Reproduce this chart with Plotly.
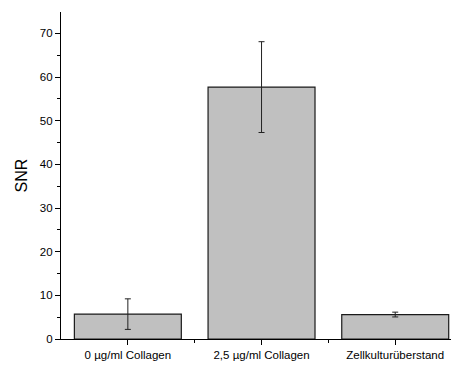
import plotly.graph_objects as go

categories = ["0 µg/ml Collagen", "2,5 µg/ml Collagen", "Zellkulturüberstand"]
snr_values = [5.7, 57.7, 5.6]
snr_errors = [3.5, 10.4, 0.55]
y_ticks = [0, 10, 20, 30, 40, 50, 60, 70]

x_pos = list(range(len(categories)))

fig = go.Figure()
fig.add_trace(go.Bar(
    x=x_pos, y=snr_values, width=0.8,
    marker=dict(color="#C0C0C0", line=dict(color="#1a1a1a", width=1.2)),
    error_y=dict(type="data", array=snr_errors, visible=True,
                 color="#222222", thickness=1, width=3),
))

# page body has an 8px margin; compensate so the plot sits where the reference does
fig.update_layout(
    width=451, height=357,
    margin=dict(l=53, r=0, t=4, b=26, autoexpand=False),
    plot_bgcolor="white", paper_bgcolor="white",
    font=dict(family="Liberation Sans, Arial, sans-serif", size=11.5, color="#000000"),
    showlegend=False,
    bargap=0.2,
)
fig.update_xaxes(
    range=[-0.5, 2.477], tickmode="array", tickvals=x_pos, ticktext=categories,
    showline=True, linecolor="black", linewidth=1.2, ticks="outside",
    ticklen=5, tickcolor="black", showgrid=False, zeroline=False,
    tickfont=dict(size=11.5), automargin=False,
    minor=dict(tickmode="array", tickvals=[0.5, 1.5], ticks="outside",
               ticklen=3, tickcolor="black", showgrid=False),
)
fig.update_yaxes(
    range=[0, 74.9], tickmode="array", tickvals=y_ticks,
    showline=True, linecolor="black", linewidth=1.2, ticks="outside",
    ticklen=5, tickcolor="black", showgrid=False, zeroline=False,
    tickfont=dict(size=11.5), automargin=False,
    title=dict(text="SNR", font=dict(size=16), standoff=8),
    minor=dict(dtick=5, tick0=0, ticks="outside", ticklen=3,
               tickcolor="black", showgrid=False),
)

fig.write_html("out.html")
